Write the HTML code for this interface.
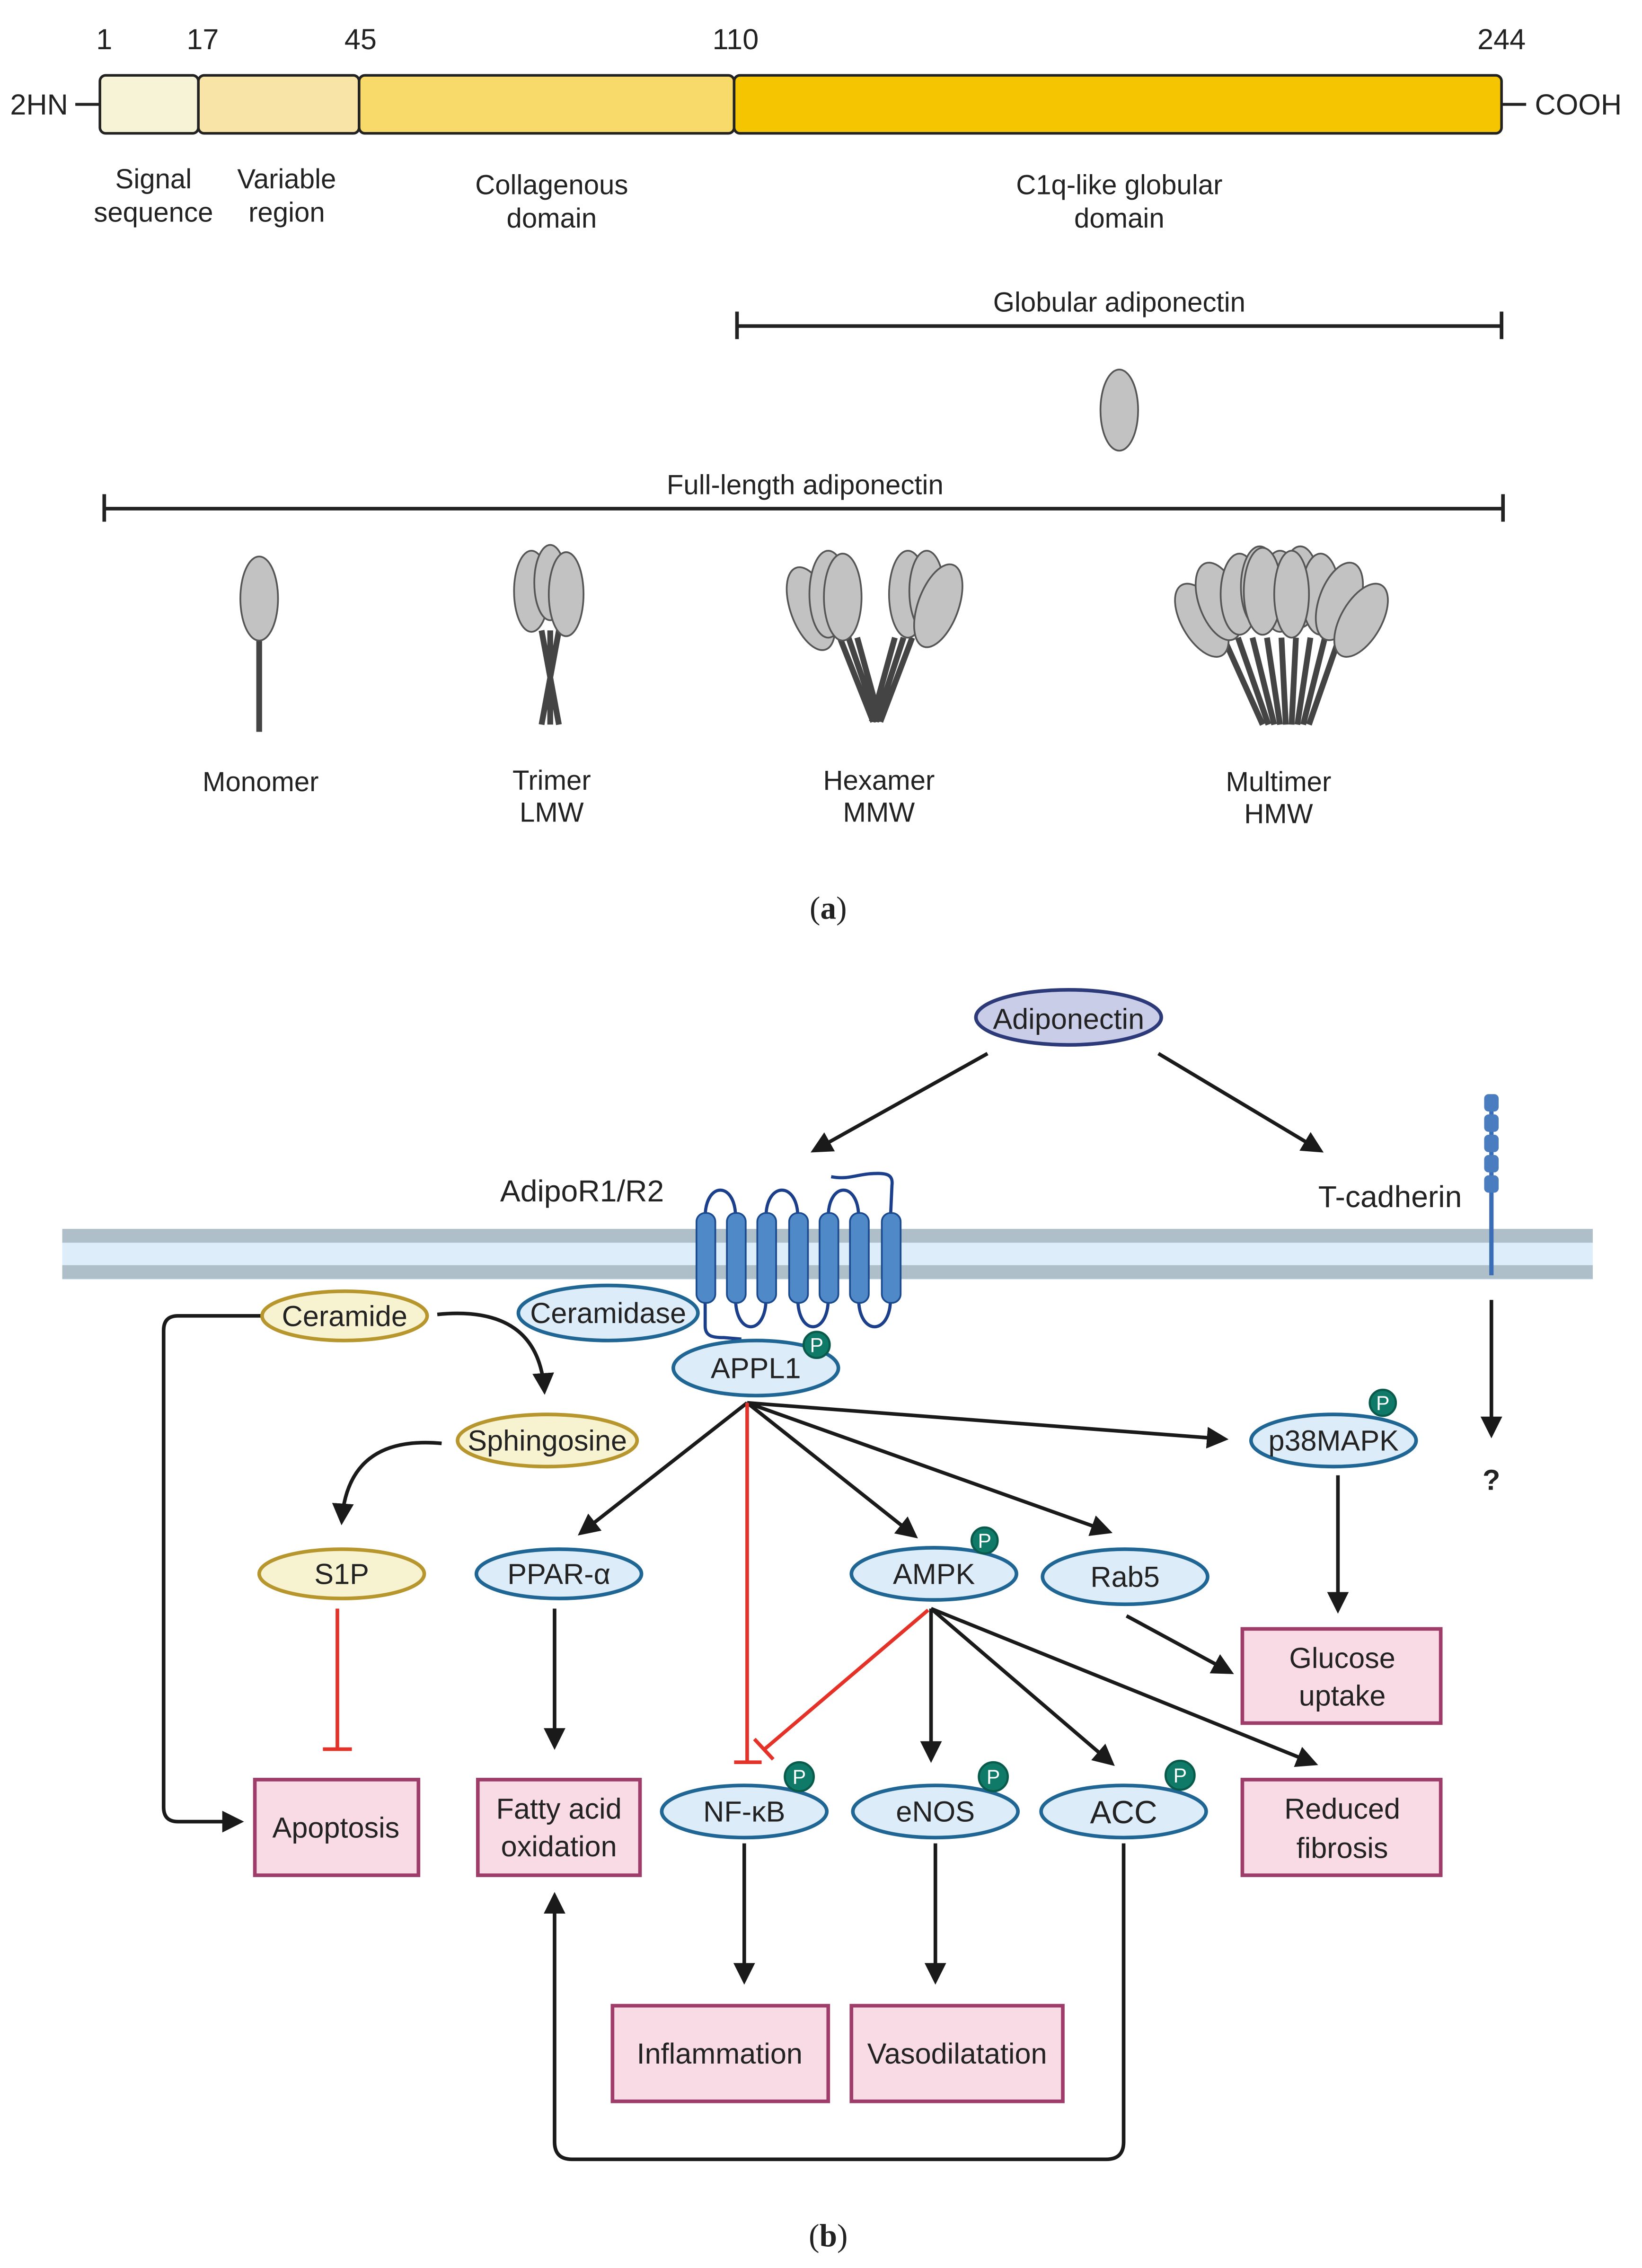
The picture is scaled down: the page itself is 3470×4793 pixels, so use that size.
<!DOCTYPE html>
<html><head><meta charset="utf-8"><style>
html,body{margin:0;padding:0;background:#fff;}
svg{display:block;}
text{font-family:"Liberation Sans",sans-serif;fill:#222;}
text.w{fill:#fff;}
</style></head><body>
<svg width="3470" height="4793" viewBox="0 0 1134 1565" preserveAspectRatio="none" xmlns="http://www.w3.org/2000/svg">
<defs>
<marker id="ah" markerWidth="6" markerHeight="6" refX="5" refY="3" orient="auto" markerUnits="strokeWidth"><path d="M0,0 L6,3 L0,6 z" fill="#1a1a1a"/></marker>
</defs>
<!-- PART A -->
<g font-size="20">
<text x="72" y="34" text-anchor="middle">1</text>
<text x="140" y="34" text-anchor="middle">17</text>
<text x="249" y="34" text-anchor="middle">45</text>
<text x="508" y="34" text-anchor="middle">110</text>
<text x="1037" y="34" text-anchor="middle">244</text>
<text x="7" y="79">2HN</text>
<text x="1060" y="79">COOH</text>
</g>
<line x1="52" y1="72" x2="69" y2="72" stroke="#222" stroke-width="2"/>
<line x1="1037" y1="72" x2="1054" y2="72" stroke="#222" stroke-width="2"/>
<g stroke="#222" stroke-width="1.8">
<rect x="69" y="52" width="68" height="40" rx="4" fill="#f7f3d6"/>
<rect x="137" y="52" width="111" height="40" rx="4" fill="#f9e4a7"/>
<rect x="248" y="52" width="259" height="40" rx="4" fill="#f7da6a"/>
<rect x="507" y="52" width="530" height="40" rx="4" fill="#f4c500"/>
</g>
<g font-size="19" text-anchor="middle">
<text x="106" y="130">Signal</text><text x="106" y="153">sequence</text>
<text x="198" y="130">Variable</text><text x="198" y="153">region</text>
<text x="381" y="134">Collagenous</text><text x="381" y="157">domain</text>
<text x="773" y="134">C1q-like globular</text><text x="773" y="157">domain</text>
<text x="773" y="215">Globular adiponectin</text>
<text x="556" y="341">Full-length adiponectin</text>
<text x="180" y="546">Monomer</text>
<text x="381" y="545">Trimer</text><text x="381" y="567">LMW</text>
<text x="607" y="545">Hexamer</text><text x="607" y="567">MMW</text>
<text x="883" y="546">Multimer</text><text x="883" y="568">HMW</text>
</g>
<g stroke="#222" stroke-width="2.5">
<line x1="509" y1="225" x2="1037" y2="225"/><line x1="509" y1="215" x2="509" y2="234"/><line x1="1037" y1="215" x2="1037" y2="234"/>
<line x1="72" y1="351" x2="1038" y2="351"/><line x1="72" y1="341" x2="72" y2="360"/><line x1="1038" y1="341" x2="1038" y2="360"/>
</g>
<!-- stems -->
<g stroke="#444" stroke-width="4" fill="none">
<line x1="179" y1="438" x2="179" y2="505"/>
<path d="M374,435 L386,500 M386,435 L374,500 M380,435 L380,500"/>
<path d="M580,440 L603,498 M586,440 L606,498 M592,440 L608,498 M630,440 L608,498 M624,440 L605,498 M618,440 L602,498"/>
<path d="M845,440 L872,500 M855,440 L876,500 M865,440 L880,500 M875,440 L884,500 M885,440 L888,500 M895,440 L892,500 M905,440 L896,500 M915,440 L900,500 M925,440 L904,500"/>
</g>
<g fill="#c2c2c2" stroke="#555" stroke-width="1.2">
<ellipse cx="773" cy="283" rx="13" ry="28"/>
<ellipse cx="179" cy="413" rx="13" ry="29"/>
<ellipse cx="367" cy="408" rx="12" ry="28"/>
<ellipse cx="380" cy="402" rx="11" ry="26"/>
<ellipse cx="391" cy="410" rx="12" ry="29"/>
<ellipse cx="560" cy="420" rx="14" ry="30" transform="rotate(-20 560 420)"/>
<ellipse cx="572" cy="410" rx="13" ry="30"/>
<ellipse cx="582" cy="412" rx="13" ry="30"/>
<ellipse cx="627" cy="410" rx="13" ry="30"/>
<ellipse cx="640" cy="408" rx="12" ry="28"/>
<ellipse cx="648" cy="418" rx="14" ry="30" transform="rotate(20 648 418)"/>
<ellipse cx="830" cy="428" rx="14" ry="28" transform="rotate(-30 830 428)"/>
<ellipse cx="842" cy="415" rx="14" ry="28" transform="rotate(-20 842 415)"/>
<ellipse cx="856" cy="410" rx="13" ry="28"/>
<ellipse cx="870" cy="405" rx="13" ry="28"/>
<ellipse cx="884" cy="408" rx="13" ry="28"/>
<ellipse cx="898" cy="405" rx="13" ry="28"/>
<ellipse cx="912" cy="410" rx="13" ry="28"/>
<ellipse cx="925" cy="415" rx="14" ry="28" transform="rotate(20 925 415)"/>
<ellipse cx="940" cy="428" rx="14" ry="28" transform="rotate(30 940 428)"/>
<ellipse cx="872" cy="408" rx="13" ry="30"/>
<ellipse cx="892" cy="410" rx="12" ry="30"/>
</g>
<text x="572" y="634" font-size="22" text-anchor="middle" style="font-family:'Liberation Serif',serif">(<tspan font-weight="bold">a</tspan>)</text>

<!-- PART B -->
<rect x="43" y="848" width="1057" height="35" fill="#ddeefa"/>
<rect x="43" y="848" width="1057" height="9.5" fill="#aebfca"/>
<rect x="43" y="873" width="1057" height="9.5" fill="#aebfca"/>
<ellipse cx="738" cy="702" rx="64" ry="19" fill="#c9cde8" stroke="#2d3a7a" stroke-width="2.5"/>
<text x="738" y="710" font-size="20" text-anchor="middle">Adiponectin</text>
<g stroke="#1a1a1a" stroke-width="2.5" fill="none" marker-end="url(#ah)">
<line x1="682" y1="727" x2="562" y2="794"/>
<line x1="800" y1="727" x2="912" y2="794"/>
<line x1="1030" y1="897" x2="1030" y2="990"/>
</g>
<text x="402" y="829" font-size="21" text-anchor="middle">AdipoR1/R2</text>
<text x="960" y="833" font-size="21" text-anchor="middle">T-cadherin</text>
<text x="1030" y="1028" font-size="20" font-weight="bold" text-anchor="middle">?</text>
<line x1="1030" y1="760" x2="1030" y2="880" stroke="#3a6db5" stroke-width="3"/>
<g fill="#4a7cc0"><rect x="1025" y="755" width="10" height="12" rx="3"/><rect x="1025" y="769" width="10" height="12" rx="3"/><rect x="1025" y="783" width="10" height="12" rx="3"/><rect x="1025" y="797" width="10" height="12" rx="3"/><rect x="1025" y="811" width="10" height="12" rx="3"/></g>
<g fill="none" stroke="#1b3f8a" stroke-width="2.2">
<path d="M487,840 C487,815 508,815 508,840"/>
<path d="M529,840 C529,815 551,815 551,840"/>
<path d="M572,840 C572,815 593,815 593,840"/>
<path d="M508,896 C508,922 529,922 529,896"/>
<path d="M551,896 C551,922 572,922 572,896"/>
<path d="M593,896 C593,922 615,922 615,896"/>
<path d="M615,840 L616,818 C617,810 612,809 600,810 C590,811 585,814 574,812"/>
<path d="M487,896 L487,915 C487,922 492,923 500,923 L512,924"/>
</g>
<g fill="#5089c8" stroke="#1b4a8f" stroke-width="1.2">
<rect x="481" y="837" width="13" height="62" rx="6"/>
<rect x="502" y="837" width="13" height="62" rx="6"/>
<rect x="523" y="837" width="13" height="62" rx="6"/>
<rect x="545" y="837" width="13" height="62" rx="6"/>
<rect x="566" y="837" width="13" height="62" rx="6"/>
<rect x="587" y="837" width="13" height="62" rx="6"/>
<rect x="609" y="837" width="13" height="62" rx="6"/>
</g>
<g stroke="#1a1a1a" stroke-width="2.5" fill="none" marker-end="url(#ah)">
<path d="M180,908 L123,908 Q113,908 113,918 L113,1247 Q113,1257 123,1257 L166,1257"/>
<path d="M302,907 Q372,900 376,960"/>
<path d="M305,996 Q240,990 236,1050"/>
<line x1="383" y1="1110" x2="383" y2="1205"/>
<line x1="516" y1="968" x2="401" y2="1058"/>
<line x1="516" y1="968" x2="632" y2="1060"/>
<line x1="516" y1="968" x2="766" y2="1057"/>
<line x1="516" y1="968" x2="846" y2="993"/>
<line x1="643" y1="1110" x2="643" y2="1214"/>
<line x1="643" y1="1110" x2="768" y2="1217"/>
<line x1="643" y1="1110" x2="908" y2="1217"/>
<line x1="778" y1="1115" x2="850" y2="1154"/>
<line x1="924" y1="1018" x2="924" y2="1111"/>
<line x1="514" y1="1272" x2="514" y2="1367"/>
<line x1="646" y1="1272" x2="646" y2="1367"/>
<path d="M776,1272 L776,1478 Q776,1490 764,1490 L395,1490 Q383,1490 383,1478 L383,1308"/>
</g>
<g stroke="#e53228" stroke-width="2.5" fill="none">
<line x1="233" y1="1110" x2="233" y2="1207"/><line x1="223" y1="1207" x2="243" y2="1207"/>
<line x1="516" y1="968" x2="516" y2="1216"/><line x1="507" y1="1216" x2="526" y2="1216"/>
<line x1="641" y1="1111" x2="528" y2="1207"/><line x1="521" y1="1200" x2="534" y2="1214"/>
</g>
<g stroke-width="2.5" font-size="20">
<ellipse cx="238" cy="908" rx="57" ry="17" fill="#f7f3d0" stroke="#b8962e"/>
<ellipse cx="378" cy="994" rx="62" ry="18" fill="#f7f3d0" stroke="#b8962e"/>
<ellipse cx="236" cy="1086" rx="57" ry="17" fill="#f7f3d0" stroke="#b8962e"/>
<ellipse cx="420" cy="906" rx="62" ry="19" fill="#dcecf8" stroke="#1f6695"/>
<ellipse cx="522" cy="944" rx="57" ry="19" fill="#dcecf8" stroke="#1f6695"/>
<ellipse cx="386" cy="1086" rx="57" ry="17" fill="#dcecf8" stroke="#1f6695"/>
<ellipse cx="645" cy="1086" rx="57" ry="18" fill="#dcecf8" stroke="#1f6695"/>
<ellipse cx="777" cy="1088" rx="57" ry="19" fill="#dcecf8" stroke="#1f6695"/>
<ellipse cx="921" cy="994" rx="57" ry="18" fill="#dcecf8" stroke="#1f6695"/>
<ellipse cx="514" cy="1250" rx="57" ry="18" fill="#dcecf8" stroke="#1f6695"/>
<ellipse cx="646" cy="1250" rx="57" ry="18" fill="#dcecf8" stroke="#1f6695"/>
<ellipse cx="776" cy="1250" rx="57" ry="18" fill="#dcecf8" stroke="#1f6695"/>
</g>
<g font-size="20" text-anchor="middle">
<text x="238" y="915">Ceramide</text>
<text x="378" y="1001">Sphingosine</text>
<text x="236" y="1093">S1P</text>
<text x="420" y="913">Ceramidase</text>
<text x="522" y="951">APPL1</text>
<text x="386" y="1093">PPAR-α</text>
<text x="645" y="1093">AMPK</text>
<text x="777" y="1095">Rab5</text>
<text x="921" y="1001">p38MAPK</text>
<text x="514" y="1257">NF-κB</text>
<text x="646" y="1257">eNOS</text>
<text x="776" y="1258" font-size="22">ACC</text>
</g>
<g fill="#0f7a68" stroke="#0a5a4c" stroke-width="1.5">
<circle cx="564" cy="928" r="9"/><circle cx="680" cy="1063" r="9"/><circle cx="955" cy="968" r="9"/>
<circle cx="552" cy="1226" r="10"/><circle cx="686" cy="1226" r="10"/><circle cx="815" cy="1225" r="10"/>
</g>
<g font-size="14" text-anchor="middle">
<text class="w" x="564" y="933">P</text><text class="w" x="680" y="1068">P</text><text class="w" x="955" y="973">P</text>
<text class="w" x="552" y="1231">P</text><text class="w" x="686" y="1231">P</text><text class="w" x="815" y="1230">P</text>
</g>
<g fill="#f9dbe6" stroke="#9e3c6a" stroke-width="2.5">
<rect x="858" y="1124" width="137" height="65"/>
<rect x="176" y="1228" width="113" height="66"/>
<rect x="330" y="1228" width="112" height="66"/>
<rect x="858" y="1228" width="137" height="66"/>
<rect x="423" y="1384" width="149" height="66"/>
<rect x="588" y="1384" width="146" height="66"/>
</g>
<g font-size="20" text-anchor="middle">
<text x="927" y="1151">Glucose</text><text x="927" y="1177">uptake</text>
<text x="232" y="1268">Apoptosis</text>
<text x="386" y="1255">Fatty acid</text><text x="386" y="1281">oxidation</text>
<text x="927" y="1255">Reduced</text><text x="927" y="1282">fibrosis</text>
<text x="497" y="1424">Inflammation</text>
<text x="661" y="1424">Vasodilatation</text>
</g>
<text x="572" y="1550" font-size="22" text-anchor="middle" style="font-family:'Liberation Serif',serif">(<tspan font-weight="bold">b</tspan>)</text>
</svg>
</body></html>
